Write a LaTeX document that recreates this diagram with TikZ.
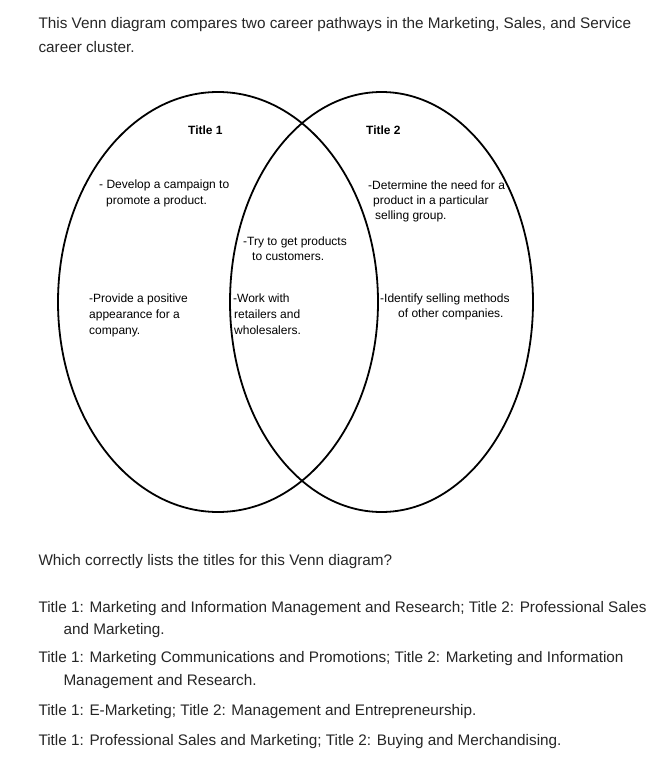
\documentclass[tikz,border=0pt]{standalone}
\usepackage{fontspec}
\setmainfont{Liberation Sans}
\begin{document}
\begin{tikzpicture}[x=1pt,y=-1pt,
  body/.style={anchor=base west,inner sep=0pt,font=\fontsize{15.3}{18}\selectfont,text=black!85},
  vtext/.style={anchor=base west,inner sep=0pt,font=\fontsize{12}{14}\selectfont},
  vtitle/.style={vtext,font=\fontsize{12}{14}\selectfont\bfseries},
  ring/.style={draw=black,line width=1.8pt}]
\useasboundingbox[fill=white] (0,0) rectangle (662,757);
% intro text
\node[body] (intro1) at (38.3,29) {This Venn diagram compares two career pathways in the Marketing, Sales, and Service};
\node[body] (intro2) at (38.3,52.7) {career cluster.};
% Venn circles
\draw[ring] (218,302) ellipse [x radius=160, y radius=210];
\draw[ring] (381.5,302) ellipse [x radius=151.5, y radius=210];
% titles
\node[vtitle] (t1) at (188,135) {Title 1};
\node[vtitle] (t2) at (366,135) {Title 2};
% left
\node[vtext] (l1a) at (99,188) {- Develop a campaign to};
\node[vtext] (l1b) at (106,204) {promote a product.};
\node[vtext] (l2a) at (89,302) {-Provide a positive};
\node[vtext] (l2b) at (89,318) {appearance for a};
\node[vtext] (l2c) at (89,334) {company.};
% middle
\node[vtext] (m1a) at (243,245) {-Try to get products};
\node[vtext] (m1b) at (252,260) {to customers.};
\node[vtext] (m2a) at (233,302) {-Work with};
\node[vtext] (m2b) at (234,318) {retailers and};
\node[vtext] (m2c) at (234,334) {wholesalers.};
% right
\node[vtext] (r1a) at (368,189) {-Determine the need for a};
\node[vtext] (r1b) at (373,204) {product in a particular};
\node[vtext] (r1c) at (375,219) {selling group.};
\node[vtext] (r2a) at (380,302) {-Identify selling methods};
\node[vtext] (r2b) at (398,317) {of other companies.};
% question
\node[body] (q) at (38.3,565) {Which correctly lists the titles for this Venn diagram?};
\node[body] (o1a) at (38.3,612.7) {Title 1: Marketing and Information Management and Research; Title 2: Professional Sales};
\node[body] (o1b) at (63.3,634.3) {and Marketing.};
\node[body] (o2a) at (38.3,662.7) {Title 1: Marketing Communications and Promotions; Title 2: Marketing and Information};
\node[body] (o2b) at (63.3,685) {Management and Research.};
\node[body] (o3) at (38.3,715) {Title 1: E-Marketing; Title 2: Management and Entrepreneurship.};
\node[body] (o4) at (38.3,745) {Title 1: Professional Sales and Marketing; Title 2: Buying and Merchandising.};
\end{tikzpicture}
\end{document}
